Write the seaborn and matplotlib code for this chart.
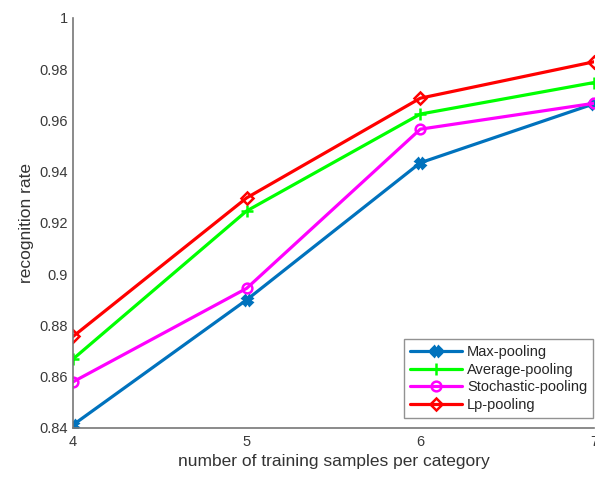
import matplotlib
matplotlib.use("Agg")
import matplotlib.pyplot as plt
import seaborn as sns
import pandas as pd

# training samples per category
samples = [4, 5, 6, 7]

# recognition rates
max_pool = [0.8412, 0.8900, 0.9435, 0.9665]
avg_pool = [0.8669, 0.9247, 0.9625, 0.9748]
sto_pool = [0.8580, 0.8945, 0.9566, 0.9667]
lp_pool = [0.8757, 0.9298, 0.9687, 0.9829]

names = ["Max-pooling", "Average-pooling", "Stochastic-pooling", "Lp-pooling"]
series = [max_pool, avg_pool, sto_pool, lp_pool]
colors = ["#0072BD", "#00FF00", "#FF00FF", "#FF0000"]
markers = ["X", "+", "o", "D"]
msizes = [7, 9, 7, 6]
filled = [True, True, False, False]

sns.set_style("white")
plt.rcParams["font.family"] = ["Liberation Sans", "DejaVu Sans"]

fig = plt.figure(figsize=(5.95, 4.79), dpi=100)
ax = fig.add_axes([0.1227, 0.1065, 0.8756, 0.856])

for name, vals, c, m, ms, f in zip(names, series, colors, markers, msizes, filled):
    df = pd.DataFrame({"x": samples, "y": vals})
    sns.lineplot(data=df, x="x", y="y", ax=ax, color=c, marker=m,
                 markersize=ms, linewidth=2.3,
                 markeredgewidth=1.8, markeredgecolor=c,
                 markerfacecolor=c if f else "none", label=name)

ax.set_xlim(4, 7)
ax.set_ylim(0.84, 1.0)
ax.set_xticks(samples)
ax.set_yticks([0.84, 0.86, 0.88, 0.9, 0.92, 0.94, 0.96, 0.98, 1.0])
ax.set_yticklabels(["0.84", "0.86", "0.88", "0.9", "0.92", "0.94", "0.96", "0.98", "1"])
ax.tick_params(direction="in", length=4, width=1, colors="#666666",
               labelcolor="#3a3a3a", labelsize=10.5)
ax.tick_params(axis="x", pad=5)
for s in ["top", "right"]:
    ax.spines[s].set_visible(False)
for s in ["left", "bottom"]:
    ax.spines[s].set_color("#777777")
    ax.spines[s].set_linewidth(1.2)

ax.set_xlabel("number of training samples per category", fontsize=12.5, color="#333333")
ax.set_ylabel("recognition rate", fontsize=12.5, color="#333333")

leg = ax.legend(loc="lower right", bbox_to_anchor=(0.998, 0.025), fontsize=10.5,
                frameon=True, fancybox=False, borderaxespad=0, handlelength=3.6,
                labelspacing=0.25, borderpad=0.4, handletextpad=0.3)
leg.get_frame().set_edgecolor("#777777")
leg.get_frame().set_linewidth(1.0)

fig.savefig("out.png", dpi=100)
